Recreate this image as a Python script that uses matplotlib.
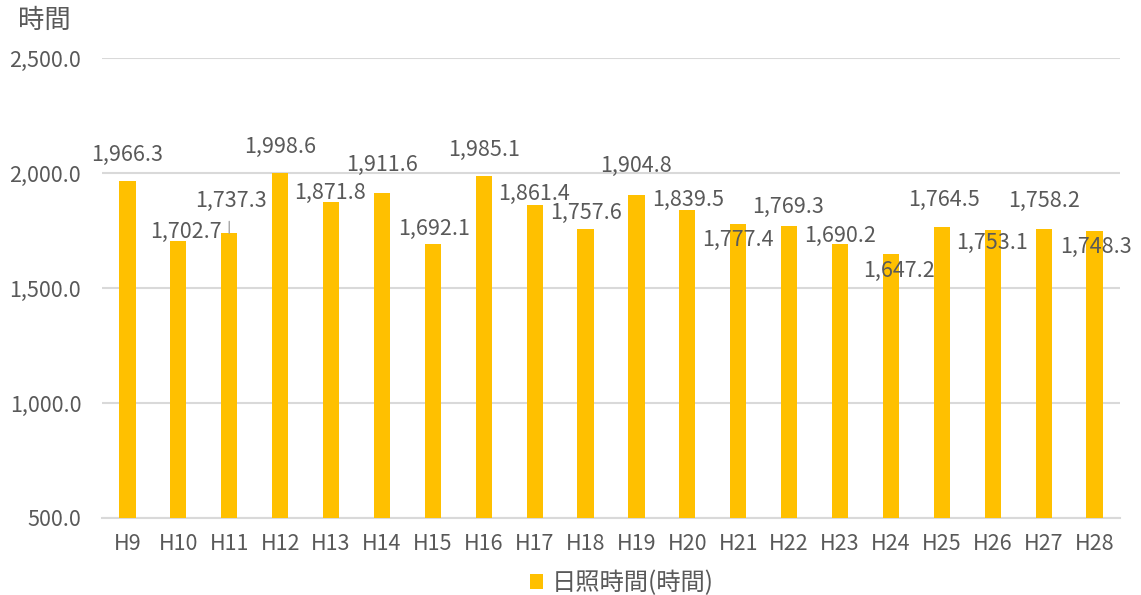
import matplotlib
matplotlib.use("Agg")
import matplotlib.pyplot as plt

plt.rcParams['font.family'] = ['Noto Sans CJK JP', 'DejaVu Sans']

categories = ["H9", "H10", "H11", "H12", "H13", "H14", "H15", "H16", "H17", "H18",
              "H19", "H20", "H21", "H22", "H23", "H24", "H25", "H26", "H27", "H28"]
sunshine_hours = [1966.3, 1702.7, 1737.3, 1998.6, 1871.8, 1911.6, 1692.1, 1985.1, 1861.4, 1757.6,
                  1904.8, 1839.5, 1777.4, 1769.3, 1690.2, 1647.2, 1764.5, 1753.1, 1758.2, 1748.3]
series_name = "日照時間(時間)"
y_title = "時間"

# label offsets (pixels) from bar top centre to label centre
label_offsets = [(0, 26), (8, 9), (2, 32), (0, 26), (-1, 10), (0, 28), (1, 15), (0, 26), (-1, 11), (0, 16),
                 (0, 29), (1, 10), (0, -16), (-1, 19), (0, 8), (8, -17), (2, 27), (-1, -13), (0, 28), (1, -16)]

bar_color = "#FFC000"
text_color = "#595959"
grid_color = "#D9D9D9"

fig = plt.figure(figsize=(11.41, 5.95), dpi=100)
ax = fig.add_axes([102 / 1141, 1 - 518 / 595, (1120 - 102) / 1141, (518 - 58) / 595])

x = list(range(len(categories)))
bars = ax.bar(x, sunshine_hours, width=0.32, color=bar_color, zorder=3, label=series_name)

ax.set_ylim(500, 2500)
ax.set_xlim(-0.5, len(categories) - 0.5)
ax.set_yticks([500, 1000, 1500, 2000, 2500])
ax.set_yticklabels([f"{v:,.1f}" for v in [500, 1000, 1500, 2000, 2500]])
ax.set_xticks(x)
ax.set_xticklabels(categories)
ax.tick_params(axis='both', length=0, labelsize=15.5, labelcolor=text_color)
ax.tick_params(axis='y', pad=15)
ax.tick_params(axis='x', pad=11)
ax.grid(axis='y', color=grid_color, linewidth=1.5, zorder=0)
for s in ["top", "right", "left"]:
    ax.spines[s].set_visible(False)
ax.spines["bottom"].set_color(grid_color)
ax.spines["bottom"].set_linewidth(1.5)

for xi, v, (dx, dy) in zip(x, sunshine_hours, label_offsets):
    ax.annotate(f"{v:,.1f}", xy=(xi, v), xytext=(dx, dy), textcoords='offset pixels',
                ha='center', va='center', fontsize=15.5, color=text_color, zorder=4)

# leader line for H11
ax.annotate("", xy=(2, sunshine_hours[2]), xytext=(0, 12), textcoords='offset pixels',
            arrowprops=dict(arrowstyle='-', color='#A6A6A6', lw=1, shrinkA=0, shrinkB=0))

fig.text(44 / 1141, 1 - 20 / 595, y_title, fontsize=19, color=text_color, ha='center', va='center')

leg = fig.legend(handles=[bars], labels=[series_name], loc='center', bbox_to_anchor=(622 / 1141, 1 - 583 / 595),
                 frameon=False, fontsize=17.5, handlelength=0.55, handleheight=0.55, handletextpad=0.35,
                 labelcolor=text_color, borderpad=0)

fig.savefig("out.png", dpi=100)
